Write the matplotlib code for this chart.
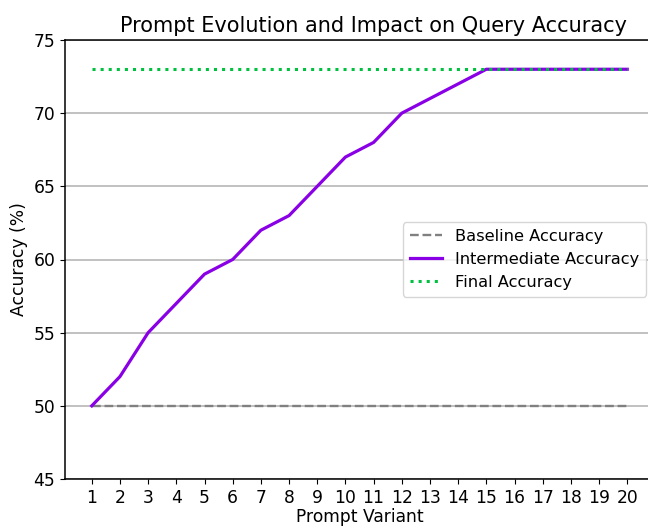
import matplotlib
matplotlib.use("Agg")
import matplotlib.pyplot as plt

variants = list(range(1, 21))
baseline = [50] * 20
intermediate = [50, 52, 55, 57, 59, 60, 62, 63, 65, 67, 68, 70, 71, 72, 73, 73, 73, 73, 73, 73]
final = [73] * 20

# the reference looks like an enlarged render, so scale text and lines up a bit
plt.rcParams['font.size'] = 12.3
plt.rcParams['axes.linewidth'] = 1.1

fig = plt.figure(figsize=(6.48, 5.27), dpi=100)
ax = fig.add_axes([65 / 648, 48 / 527, 589 / 648, 439 / 527])

ax.plot(variants, baseline, linestyle='--', color='gray', linewidth=1.7, label='Baseline Accuracy')
ax.plot(variants, intermediate, color='#8a00e6', linewidth=2.3, label='Intermediate Accuracy')
ax.plot(variants, final, linestyle=':', color='#00c040', linewidth=2.2, label='Final Accuracy')

ax.set_title("Prompt Evolution and Impact on Query Accuracy", fontsize=15, x=0.523)
ax.set_xlabel("Prompt Variant", labelpad=1)
ax.set_ylabel("Accuracy (%)")
ax.set_xticks(variants)
ax.set_ylim(45, 75)
ax.grid(axis='y', linewidth=1.1)
ax.legend(loc='center right', fontsize=11.7)

plt.savefig('out.png', dpi=100)
